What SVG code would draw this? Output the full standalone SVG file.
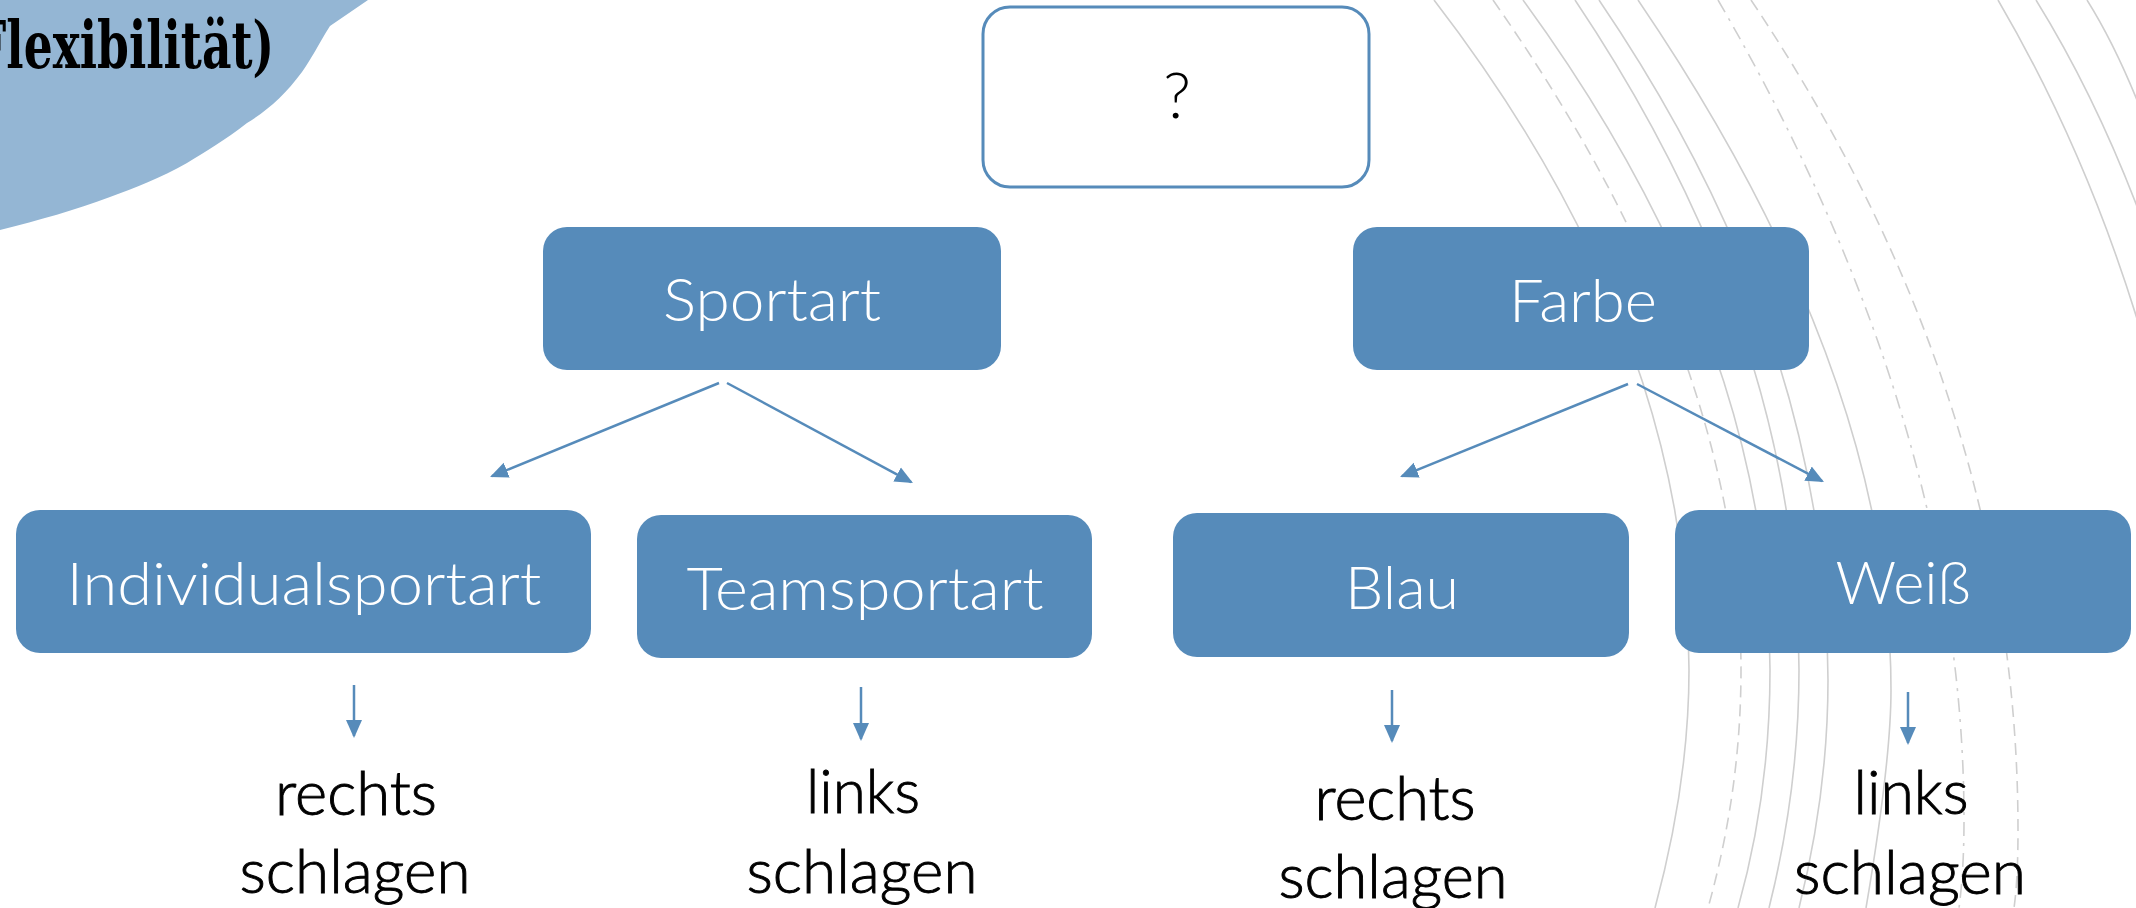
<svg xmlns="http://www.w3.org/2000/svg" width="2136" height="908" viewBox="0 0 2136 908">
  <style>
    .arc { fill: none; stroke: #cfcfcf; stroke-width: 1.6; }
    .dash { stroke-dasharray: 12 7; }
    .dashdot { stroke-dasharray: 14 7 3 7; }
    .box { fill: #568bba; }
    .qbox { fill: #ffffff; stroke: #568bba; stroke-width: 3; }
    .lbl { font-family: Lato, "Open Sans", "Liberation Sans", sans-serif; font-weight: 300; font-size: 60px; fill: #ffffff; text-anchor: middle; }
    .out { font-family: Lato, "Open Sans", "Liberation Sans", sans-serif; font-weight: 300; font-size: 61px; fill: #000000; stroke: #000000; stroke-width: 0.9; text-anchor: middle; }
    .q { font-family: Lato, "Open Sans", "Liberation Sans", sans-serif; font-weight: 300; font-size: 64px; fill: #000000; text-anchor: middle; }
    .title { font-family: "DejaVu Serif", "Liberation Serif", serif; font-weight: bold; font-size: 66px; fill: #000000; }
    .conn { fill: none; stroke: #568bba; stroke-width: 2.5; marker-end: url(#ah); }
  </style>
  <defs>
    <marker id="ah" markerUnits="userSpaceOnUse" markerWidth="18" markerHeight="18" viewBox="0 0 18 18" refX="16" refY="9" orient="auto">
      <path d="M0,1 L18,9 L0,17 Z" fill="#568bba"/>
    </marker>
  </defs>

  <rect width="2136" height="908" fill="#ffffff"/>

  <!-- background swoosh lines -->
  <g id="background-arcs">
    <path class="arc" d="M1434,0 Q1689,331 1689,670 Q1689,782 1655,908"/>
    <path class="arc dash" d="M1493,0 Q1741,354 1741,670 Q1741,790 1708,908"/>
    <path class="arc" d="M1523,0 Q1770,338 1770,670 Q1770,794 1738,908"/>
    <path class="arc" d="M1575,0 Q1799,334 1799,670 Q1799,788 1769,908"/>
    <path class="arc" d="M1599,0 Q1828,337 1828,680 Q1828,792 1799,908"/>
    <path class="arc" d="M1638,0 Q1891,372 1891,690 Q1891,761 1866,908"/>
    <path class="arc dashdot" d="M1718,0 Q1964,424 1964,820 Q1964,870 1959,908"/>
    <path class="arc dash" d="M1751,0 Q2018,398 2018,830 Q2018,880 2014,908"/>
    <path class="arc" d="M1998,0 Q2150,260 2200,600"/>
    <path class="arc" d="M2036,0 Q2160,200 2220,500"/>
    <path class="arc" d="M2087,0 Q2150,100 2200,300"/>
  </g>

  <!-- title ribbon, top left -->
  <g id="title">
    <path d="M0,0 H368 L330,26 C318,45 312,58 302,72 C285,95 268,110 247,123 C225,140 205,152 187,163 C160,178 135,188 110,197 C75,210 40,220 0,230 Z" fill="#94b6d4"/>
    <text class="title" x="-26" y="68" textLength="300" lengthAdjust="spacingAndGlyphs">Flexibilität)</text>
  </g>

  <g id="node-question">
    <rect class="qbox" x="983" y="7" width="386" height="180" rx="27"/>
    <text class="q" x="1177" y="118">?</text>
  </g>

  <g id="node-sportart">
    <rect class="box" x="543" y="227" width="458" height="143" rx="24"/>
    <text class="lbl" x="772" y="321" textLength="218" lengthAdjust="spacingAndGlyphs">Sportart</text>
  </g>

  <g id="node-farbe">
    <rect class="box" x="1353" y="227" width="456" height="143" rx="24"/>
    <text class="lbl" x="1583" y="322" textLength="148" lengthAdjust="spacingAndGlyphs">Farbe</text>
  </g>

  <g id="node-individualsportart">
    <rect class="box" x="16" y="510" width="575" height="143" rx="24"/>
    <text class="lbl" x="304" y="605" textLength="475" lengthAdjust="spacingAndGlyphs">Individualsportart</text>
  </g>

  <g id="node-teamsportart">
    <rect class="box" x="637" y="515" width="455" height="143" rx="24"/>
    <text class="lbl" x="865" y="610" textLength="357" lengthAdjust="spacingAndGlyphs">Teamsportart</text>
  </g>

  <g id="node-blau">
    <rect class="box" x="1173" y="513" width="456" height="144" rx="24"/>
    <text class="lbl" x="1402" y="609" textLength="114" lengthAdjust="spacingAndGlyphs">Blau</text>
  </g>

  <g id="node-weiss">
    <rect class="box" x="1675" y="510" width="456" height="143" rx="24"/>
    <text class="lbl" x="1903" y="604" textLength="135" lengthAdjust="spacingAndGlyphs">Weiß</text>
  </g>

  <g id="outcome-individual">
    <text class="out" x="356" y="815" textLength="162" lengthAdjust="spacingAndGlyphs">rechts</text>
    <text class="out" x="355" y="893" textLength="231" lengthAdjust="spacingAndGlyphs">schlagen</text>
  </g>
  <g id="outcome-team">
    <text class="out" x="863" y="813" textLength="114" lengthAdjust="spacingAndGlyphs">links</text>
    <text class="out" x="862" y="893" textLength="231" lengthAdjust="spacingAndGlyphs">schlagen</text>
  </g>
  <g id="outcome-blau">
    <text class="out" x="1395" y="820" textLength="161" lengthAdjust="spacingAndGlyphs">rechts</text>
    <text class="out" x="1393" y="898" textLength="229" lengthAdjust="spacingAndGlyphs">schlagen</text>
  </g>
  <g id="outcome-weiss">
    <text class="out" x="1911" y="814" textLength="115" lengthAdjust="spacingAndGlyphs">links</text>
    <text class="out" x="1910" y="894" textLength="232" lengthAdjust="spacingAndGlyphs">schlagen</text>
  </g>

  <!-- connectors -->
  <g id="connectors">
    <path class="conn" d="M719,383 L491.9,476.2"/>
    <path class="conn" d="M727,383 L911.2,482.1"/>
    <path class="conn" d="M1628,384 L1401.9,476.2"/>
    <path class="conn" d="M1637,384 L1822.2,481.1"/>
    <path class="conn" d="M354,685 L354,736"/>
    <path class="conn" d="M861,687 L861,739"/>
    <path class="conn" d="M1392,690 L1392,741"/>
    <path class="conn" d="M1908,692 L1908,743"/>
  </g>
</svg>
